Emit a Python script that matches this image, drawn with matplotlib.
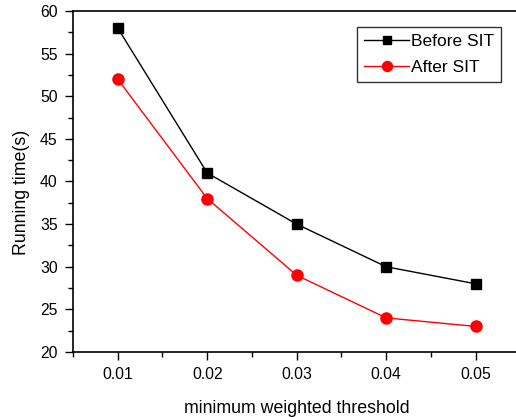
import matplotlib
matplotlib.use("Agg")
import matplotlib.pyplot as plt
from matplotlib.ticker import MultipleLocator

plt.rcParams['font.family'] = ['Liberation Sans', 'DejaVu Sans']

thresholds = [0.01, 0.02, 0.03, 0.04, 0.05]
before_sit = [58, 41, 35, 30, 28]
after_sit = [52, 38, 29, 24, 23]

fig = plt.figure(figsize=(5.16, 4.19), dpi=100)
ax = fig.add_axes([73 / 516, 1 - 352 / 419, 447.4 / 516, 341 / 419])

ax.plot(thresholds, before_sit, color='black', marker='s', markersize=7, lw=1, label='Before SIT')
ax.plot(thresholds, after_sit, color='red', marker='o', markersize=8, lw=1, label='After SIT')

ax.set_xlim(0.005, 0.055)
ax.set_ylim(20, 60)
ax.set_xticks(thresholds)
ax.set_xticklabels(['0.01', '0.02', '0.03', '0.04', '0.05'])
ax.xaxis.set_minor_locator(MultipleLocator(0.005))
ax.yaxis.set_major_locator(MultipleLocator(5))
ax.yaxis.set_minor_locator(MultipleLocator(2.5))
ax.tick_params(which='major', direction='out', length=6, width=1, labelsize=11.3, pad=5)
ax.tick_params(which='minor', direction='out', length=3.5, width=1)
for s in ax.spines.values():
    s.set_linewidth(1.2)

ax.set_xlabel('minimum weighted threshold', fontsize=12.8, labelpad=13)
ax.set_ylabel('Running time(s)', fontsize=12.8)
# label sits a bit below the axes centre in the original
ax.yaxis.set_label_coords(-0.097, 0.469)

leg = ax.legend(loc='upper left', bbox_to_anchor=((357 - 73) / 447.4, 1 - (27 - 11) / 341),
                borderaxespad=0, fontsize=12.5, frameon=True, fancybox=False, edgecolor='black',
                handlelength=2.6, borderpad=0.4, labelspacing=0.62, handletextpad=0.1,
                markerscale=0.9)
leg.get_frame().set_linewidth(1)

fig.savefig('out.png', dpi=100)
